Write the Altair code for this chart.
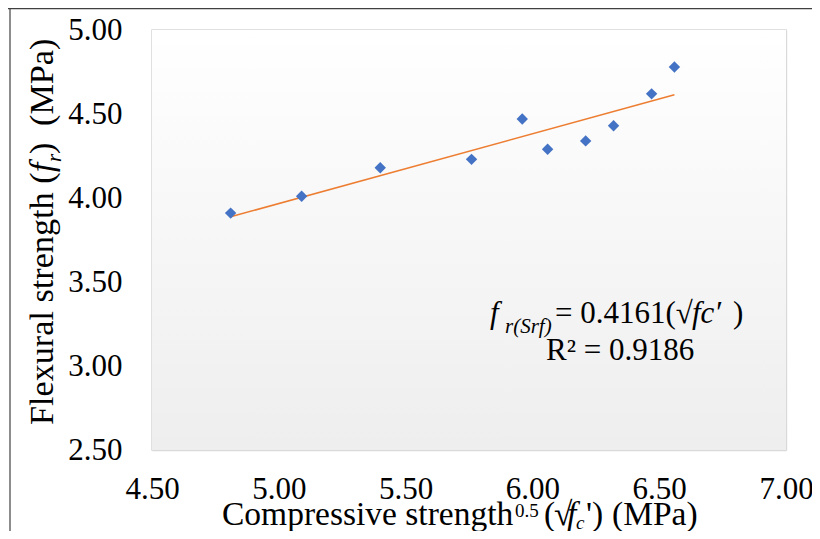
import altair as alt
import pandas as pd

# ---- data ----
sqrt_fc = [4.81, 5.09, 5.40, 5.76, 5.96, 6.06, 6.21, 6.32, 6.47, 6.56]
fr = [3.91, 4.01, 4.18, 4.23, 4.47, 4.29, 4.34, 4.43, 4.62, 4.78]
x_ticks = [4.5, 5.0, 5.5, 6.0, 6.5, 7.0]
y_ticks = [2.5, 3.0, 3.5, 4.0, 4.5, 5.0]

df = pd.DataFrame({"x": sqrt_fc, "y": fr})
one = pd.DataFrame({"a": [0]})

FONT = "'Liberation Serif', 'Times New Roman', 'DejaVu Serif', serif"
W, H = 634, 420

xscale = alt.Scale(domain=[4.5, 7.0], nice=False, zero=False)
yscale = alt.Scale(domain=[2.5, 5.0], nice=False, zero=False)

bg = alt.Chart(one).mark_rect(
    fill=alt.LinearGradient(
        gradient="linear", x1=0, y1=0, x2=0, y2=1,
        stops=[alt.GradientStop(offset=0, color="#ffffff"),
               alt.GradientStop(offset=1, color="#eeeeee")],
    )
).encode(x=alt.value(0), x2=alt.value(W), y=alt.value(0), y2=alt.value(H))

points = alt.Chart(df).mark_point(
    shape="diamond", filled=True, color="#4472C4", size=130, opacity=1
).encode(
    x=alt.X("x:Q", scale=xscale, title=None,
            axis=alt.Axis(values=x_ticks, format=".2f", labelFlush=False,
                          labelPadding=24)),
    y=alt.Y("y:Q", scale=yscale, title=None,
            axis=alt.Axis(values=y_ticks, format=".2f", labelPadding=30)),
)

trend = alt.Chart(df).transform_regression("x", "y").mark_line(
    color="#ED7D31", strokeWidth=1.5
).encode(x=alt.X("x:Q", scale=xscale), y=alt.Y("y:Q", scale=yscale))


def txt(s, x, y, size, italic=False, angle=0):
    kw = dict(text=s, align="left", baseline="alphabetic", font=FONT,
              fontSize=size, color="black",
              fontStyle="italic" if italic else "normal")
    if angle:
        kw["angle"] = angle
    return alt.Chart(one).mark_text(**kw).encode(x=alt.value(x), y=alt.value(y))


texts = [
    # regression annotation
    txt("f", 338, 293, 31, italic=True),
    txt("r(Srf)", 353, 303, 21, italic=True),
    txt("= 0.4161(√", 403, 293, 31),
    txt("fc′", 540, 293, 31, italic=True),
    txt(")", 581, 293, 31),
    txt("R² = 0.9186", 394, 330, 31),
    # x axis title
    txt("Compressive strength", 70, 495, 33.5),
    txt("0.5", 363, 487, 19),
    txt("(", 392, 495, 33.5),
    txt("√", 402, 495, 33.5),
    txt("f", 415, 495, 33.5, italic=True),
    txt("c", 424, 499, 19, italic=True),
    txt("')", 434, 495, 33.5),
    txt("(MPa)", 460, 495, 33.5),
    # y axis title (rotated)
    txt("Flexural strength (", -99, 395, 34.2, angle=270),
    txt("f", -99, 142.3, 34.2, italic=True, angle=270),
    txt("r", -91, 132, 21, italic=True, angle=270),
    txt(")", -99, 124, 34.2, angle=270),
    txt("(MPa)", -99, 96, 34.2, angle=270),
]

# outer frame lines (left and top) of the original figure
frame_left = alt.Chart(one).mark_rule(color="#404040", strokeWidth=1.2).encode(
    x=alt.value(-142), y=alt.value(-22), y2=alt.value(501))
frame_top = alt.Chart(one).mark_rule(color="#404040", strokeWidth=1.2).encode(
    y=alt.value(-21.4), x=alt.value(-144), x2=alt.value(660))

chart = alt.layer(bg, trend, points, *texts, frame_left, frame_top).properties(
    width=W, height=H,
    autosize=alt.AutoSizeParams(type="none"),
    padding={"left": 144, "top": 22, "right": 26, "bottom": 81},
    background="white",
).configure_axis(
    labelFont=FONT, labelFontSize=31, labelColor="black",
    grid=True, gridColor="#d9d9d9", gridWidth=1.4,
    domain=False, ticks=False,
).configure_view(
    stroke="#d9d9d9", strokeWidth=1.5,
)

chart.save("out.html", embed_options={"renderer": "svg", "actions": False})
